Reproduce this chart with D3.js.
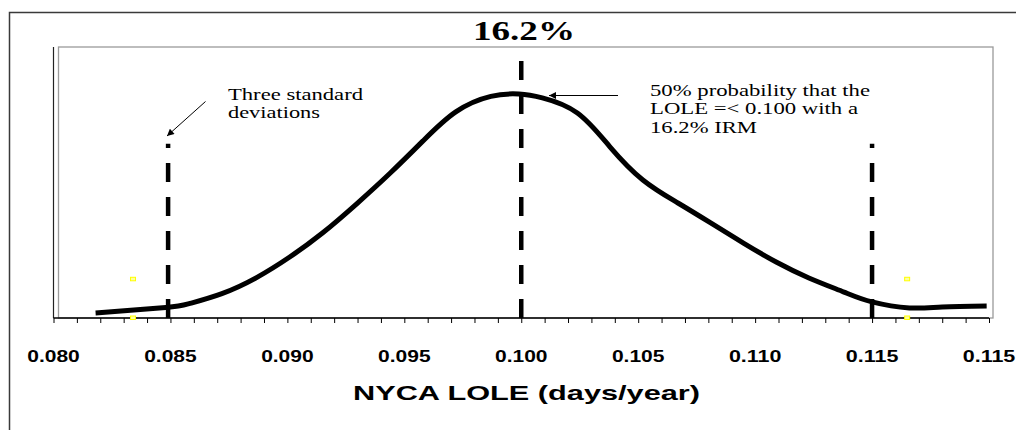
<!DOCTYPE html>
<html>
<head>
<meta charset="utf-8">
<script src="https://cdn.jsdelivr.net/npm/d3@7"></script>
<style>
  html, body { margin: 0; padding: 0; background: #ffffff; }
  svg { display: block; }
</style>
</head>
<body>
<script>
// ---- data ----
const lole    = [0.0818, 0.0848, 0.0858, 0.0872, 0.0887, 0.0901, 0.0915, 0.0930, 0.0944, 0.0958, 0.0972, 0.0987, 0.0999, 0.1009, 0.1024, 0.1038, 0.1052, 0.1067, 0.1081, 0.1095, 0.1109, 0.1123, 0.1138, 0.1150, 0.1166, 0.1180, 0.1199];
const density = [2.6, 5.4, 7.4, 12.6, 21.0, 31.5, 43.9, 59.4, 74.9, 91.5, 106.5, 114.5, 115.7, 113.7, 105.9, 88.3, 71.3, 59.4, 49.1, 38.7, 28.9, 20.7, 13.4, 8.3, 5.2, 5.7, 6.2];

const sdLineX   = [0.0849, 0.1000, 0.1150];
const sdLineTop = [90, 140, 90];

const markerX = [0.0834, 0.0834, 0.1165, 0.1165];
const markerY = [20, 0, 20, 0];

const tickValues = [0.080, 0.085, 0.090, 0.095, 0.100, 0.105, 0.110, 0.115, 0.120];
const tickLabels = ["0.080", "0.085", "0.090", "0.095", "0.100", "0.105", "0.110", "0.115", "0.115"];
const minorTicks = d3.range(80, 121).map(d => d / 1000);

const titleText = "16.2%";
const xTitle = "NYCA LOLE (days/year)";
const noteLeft = ["Three standard", "deviations"];
const noteRight = ["50% probability that the", "LOLE =< 0.100 with a", "16.2% IRM"];

// ---- layout ----
const W = 1016, H = 430;
const svg = d3.select("body").append("svg").attr("width", W).attr("height", H);

const x = d3.scaleLinear().domain([0.080, 0.120]).range([53.5, 989]);
const y = d3.scaleLinear().domain([0, 140]).range([318, 47]);

// outer frame (clipped by the window on right/bottom)
svg.append("path")
  .attr("d", "M9.5,440V12.5H1016")
  .attr("fill", "none").attr("stroke", "#3a3a3a").attr("stroke-width", 1.5);

// plot area border
svg.append("rect")
  .attr("x", 58.5).attr("y", 47).attr("width", 993 - 58.5).attr("height", 318 - 47)
  .attr("fill", "none").attr("stroke", "#9a9a9a").attr("stroke-width", 1.3);

// y axis line
svg.append("line")
  .attr("x1", 53.5).attr("x2", 53.5).attr("y1", 47).attr("y2", 318)
  .attr("stroke", "#222").attr("stroke-width", 1.2);

// x axis (minor ticks every 0.001)
const xAxis = d3.axisBottom(x).tickValues(minorTicks).tickSize(5).tickFormat("");
const gx = svg.append("g").attr("transform", "translate(0,318)").call(xAxis);
gx.select(".domain").attr("stroke", "#000").attr("stroke-width", 1.3).attr("d", `M${x(0.080)},0H${x(0.120)}`);
gx.selectAll(".tick line").attr("stroke", "#000").attr("stroke-width", 1);

// tick labels
svg.append("g").selectAll("text").data(tickValues).join("text")
  .attr("x", d => x(d)).attr("y", 362)
  .attr("text-anchor", "middle")
  .attr("font-family", "Liberation Sans, Arial, sans-serif")
  .attr("font-weight", "bold").attr("font-size", 16)
  .attr("textLength", 52.5).attr("lengthAdjust", "spacingAndGlyphs")
  .text((d, i) => tickLabels[i]);

// axis title
svg.append("text")
  .attr("x", 526.5).attr("y", 400).attr("text-anchor", "middle")
  .attr("font-family", "Liberation Sans, Arial, sans-serif")
  .attr("font-weight", "bold").attr("font-size", 21)
  .attr("textLength", 347).attr("lengthAdjust", "spacingAndGlyphs")
  .text(xTitle);

// chart title
svg.append("text")
  .attr("x", 524).attr("y", 40).attr("text-anchor", "middle")
  .attr("font-family", "Liberation Serif, Times New Roman, serif")
  .attr("font-weight", "bold").attr("font-size", 27)
  .attr("textLength", 102).attr("lengthAdjust", "spacingAndGlyphs")
  .text(titleText);

// dashed standard-deviation lines (drawn bottom to top)
svg.append("g").selectAll("line").data(sdLineX).join("line")
  .attr("x1", d => x(d)).attr("x2", d => x(d))
  .attr("y1", y(0)).attr("y2", (d, i) => y(sdLineTop[i]))
  .attr("stroke", "#000").attr("stroke-width", 4.5)
  .attr("stroke-dasharray", "19,15");

// density curve
const pts = lole.map((d, i) => [d, density[i]]);
svg.append("path")
  .datum(pts)
  .attr("fill", "none").attr("stroke", "#000").attr("stroke-width", 5)
  .attr("stroke-linejoin", "round")
  .attr("d", d3.line().x(d => x(d[0])).y(d => y(d[1])).curve(d3.curveNatural));

// small yellow markers
svg.append("g").selectAll("rect").data(markerX).join("rect")
  .attr("x", d => x(d) - 2.5).attr("y", (d, i) => y(markerY[i]) - 2)
  .attr("width", 5).attr("height", 3.5)
  .attr("fill", "#ffffa0").attr("stroke", "#ffff00").attr("stroke-width", 1);

// arrow marker
const defs = svg.append("defs");
defs.append("marker")
  .attr("id", "ah").attr("viewBox", "0 0 10 10")
  .attr("refX", 10).attr("refY", 5)
  .attr("markerWidth", 10).attr("markerHeight", 7)
  .attr("markerUnits", "userSpaceOnUse")
  .attr("orient", "auto")
  .append("path").attr("d", "M0,0L10,5L0,10Z").attr("fill", "#000");

svg.append("line")
  .attr("x1", 205.5).attr("y1", 101.5).attr("x2", 167).attr("y2", 136)
  .attr("stroke", "#000").attr("stroke-width", 1).attr("marker-end", "url(#ah)");
svg.append("line")
  .attr("x1", 618).attr("y1", 95.5).attr("x2", 549).attr("y2", 95.5)
  .attr("stroke", "#000").attr("stroke-width", 1).attr("marker-end", "url(#ah)");

// annotations
const serif = "Liberation Serif, Times New Roman, serif";
const leftLens = [135, 92];
svg.append("g").selectAll("text").data(noteLeft).join("text")
  .attr("x", 228).attr("y", (d, i) => 100 + i * 18)
  .attr("font-family", serif).attr("font-size", 17)
  .attr("textLength", (d, i) => leftLens[i]).attr("lengthAdjust", "spacingAndGlyphs")
  .text(d => d);

const rightLens = [220, 208, 107];
svg.append("g").selectAll("text").data(noteRight).join("text")
  .attr("x", 650).attr("y", (d, i) => 96 + i * 18.3)
  .attr("font-family", serif).attr("font-size", 17)
  .attr("textLength", (d, i) => rightLens[i]).attr("lengthAdjust", "spacingAndGlyphs")
  .text(d => d);
</script>
</body>
</html>
